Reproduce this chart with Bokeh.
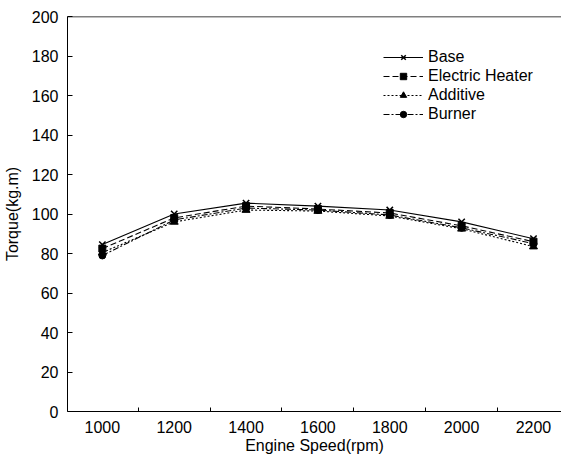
from bokeh.plotting import figure
from bokeh.models import FixedTicker, Legend, LegendItem, Range1d, Span
from bokeh.embed import file_html
from bokeh.resources import INLINE

speeds = [1000, 1200, 1400, 1600, 1800, 2000, 2200]
base = [84.5, 100, 105.5, 104, 102, 96, 87.5]
electric_heater = [82.5, 98, 104, 102.5, 100.5, 94, 86]
additive = [80.5, 96, 102, 101.5, 99, 92.5, 83.5]
burner = [79, 97, 103, 102, 99.5, 93, 85]

x_labels = [1000, 1200, 1400, 1600, 1800, 2000, 2200]
x_minor = [1100, 1300, 1500, 1700, 1900, 2100]
y_ticks = [0, 20, 40, 60, 80, 100, 120, 140, 160, 180, 200]

FONT = "Liberation Sans"

p = figure(width=561, height=456, output_backend="svg", toolbar_location=None,
           x_range=Range1d(903, 2278), y_range=Range1d(0, 200),
           min_border_left=65, min_border_right=0, min_border_top=16, min_border_bottom=0)
p.grid.visible = False
p.outline_line_color = None
p.background_fill_color = "white"
p.border_fill_color = "white"

# x axis
xa = p.xaxis[0]
xa.ticker = FixedTicker(ticks=x_labels, minor_ticks=x_minor)
xa.major_tick_line_color = None
xa.major_tick_in = 0
xa.major_tick_out = 0
xa.minor_tick_in = 4
xa.minor_tick_out = 0
xa.minor_tick_line_color = "black"
xa.axis_line_color = "black"
xa.axis_label = "Engine Speed(rpm)"
xa.axis_label_text_font = FONT
xa.axis_label_text_font_size = "16px"
xa.axis_label_text_font_style = "normal"
xa.axis_label_text_color = "black"
xa.axis_label_standoff = 1
xa.major_label_text_font = FONT
xa.major_label_text_font_size = "16px"
xa.major_label_text_color = "black"
xa.major_label_standoff = 9

# y axis
ya = p.yaxis[0]
ya.ticker = FixedTicker(ticks=y_ticks)
ya.major_tick_in = 5
ya.major_tick_out = 0
ya.minor_tick_line_color = None
ya.axis_line_color = "black"
ya.axis_label = "Torque(kg.m)"
ya.axis_label_text_font = FONT
ya.axis_label_text_font_size = "16px"
ya.axis_label_text_font_style = "normal"
ya.axis_label_text_color = "black"
ya.axis_label_standoff = 8
ya.major_label_text_font = FONT
ya.major_label_text_font_size = "16px"
ya.major_label_text_color = "black"
ya.major_label_standoff = 9

# top frame line
p.add_layout(Span(location=200, dimension="width", line_color="black", line_width=1.5))

lw = 1.1
r_base_l = p.line(speeds, base, line_color="black", line_width=lw)
r_base_m = p.scatter(speeds, base, marker="x", size=9, line_color="black", line_width=1.5)

r_eh_l = p.line(speeds, electric_heater, line_color="black", line_width=lw, line_dash="6 3")
r_eh_m = p.scatter(speeds, electric_heater, marker="square", size=7, color="black")

r_ad_l = p.line(speeds, additive, line_color="black", line_width=lw, line_dash="2 2")
r_ad_m = p.scatter(speeds, additive, marker="triangle", size=8, color="black")

r_bu_l = p.line(speeds, burner, line_color="black", line_width=lw, line_dash="6 2 2 2")
r_bu_m = p.scatter(speeds, burner, marker="circle", size=7, color="black")

legend = Legend(items=[
    LegendItem(label="Base", renderers=[r_base_l, r_base_m]),
    LegendItem(label="Electric Heater", renderers=[r_eh_l, r_eh_m]),
    LegendItem(label="Additive", renderers=[r_ad_l, r_ad_m]),
    LegendItem(label="Burner", renderers=[r_bu_l, r_bu_m]),
], location=(316, 288))
legend.border_line_color = None
legend.background_fill_alpha = 0
legend.label_text_font = FONT
legend.label_text_font_size = "16px"
legend.label_text_color = "black"
legend.glyph_width = 40
legend.glyph_height = 16
legend.label_height = 16
legend.spacing = 1
legend.padding = 0
legend.margin = 0
legend.label_standoff = 5
p.add_layout(legend, "center")

open("out.html", "w").write(file_html(p, INLINE))
